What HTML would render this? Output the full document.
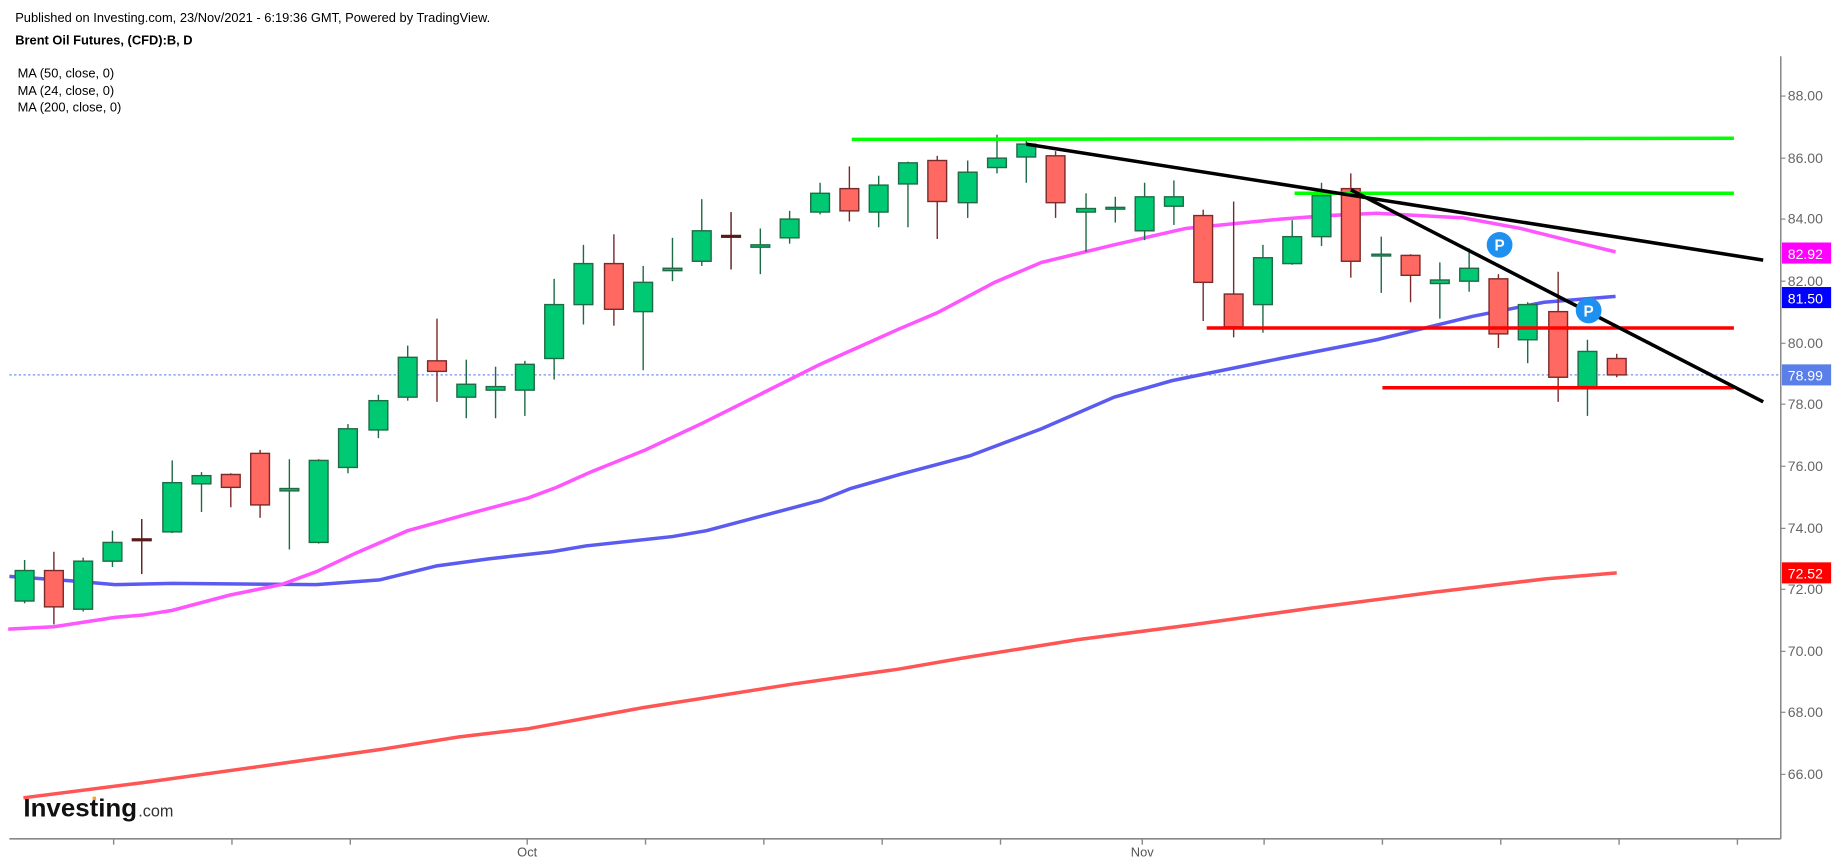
<!DOCTYPE html>
<html><head><meta charset="utf-8"><style>
html,body{margin:0;padding:0;background:#fff;overflow:hidden}
svg{display:block}
text{font-family:"Liberation Sans",sans-serif}
</style></head><body>
<svg width="1837" height="866" viewBox="0 0 1568 739.2" preserveAspectRatio="none" xmlns="http://www.w3.org/2000/svg">
<rect width="1568" height="740" fill="#fff"/>
<text x="13" y="19" font-size="11" fill="#000">Published on Investing.com, 23/Nov/2021 - 6:19:36 GMT, Powered by TradingView.</text>
<text x="13" y="38" font-size="11" font-weight="bold" fill="#000">Brent Oil Futures, (CFD):B, D</text>
<text x="15" y="66" font-size="11" fill="#000">MA (50, close, 0)</text>
<text x="15" y="81" font-size="11" fill="#000">MA (24, close, 0)</text>
<text x="15" y="95" font-size="11" fill="#000">MA (200, close, 0)</text>
<!-- axes -->
<line x1="1520" y1="48" x2="1520" y2="716" stroke="#888" stroke-width="1.3"/>
<line x1="8" y1="716" x2="1520" y2="716" stroke="#888" stroke-width="1.3"/>
<g stroke="#888" stroke-width="1.2">
<line x1="97" y1="716" x2="97" y2="721"/><line x1="198" y1="716" x2="198" y2="721"/><line x1="299" y1="716" x2="299" y2="721"/><line x1="450" y1="716" x2="450" y2="721"/><line x1="551" y1="716" x2="551" y2="721"/><line x1="652" y1="716" x2="652" y2="721"/><line x1="753" y1="716" x2="753" y2="721"/><line x1="854" y1="716" x2="854" y2="721"/><line x1="975" y1="716" x2="975" y2="721"/><line x1="1079" y1="716" x2="1079" y2="721"/><line x1="1180" y1="716" x2="1180" y2="721"/><line x1="1281" y1="716" x2="1281" y2="721"/><line x1="1382" y1="716" x2="1382" y2="721"/><line x1="1483" y1="716" x2="1483" y2="721"/>
</g>
<text x="450" y="731" font-size="11" fill="#555" text-anchor="middle">Oct</text>
<text x="975" y="731" font-size="11" fill="#555" text-anchor="middle">Nov</text>
<g font-size="12" fill="#666">
<text x="1526" y="86">88.00</text><text x="1526" y="139">86.00</text><text x="1526" y="191">84.00</text><text x="1526" y="244">82.00</text><text x="1526" y="297">80.00</text><text x="1526" y="349">78.00</text><text x="1526" y="402">76.00</text><text x="1526" y="455">74.00</text><text x="1526" y="507">72.00</text><text x="1526" y="560">70.00</text><text x="1526" y="612">68.00</text><text x="1526" y="665">66.00</text>
</g>
<g stroke="#888" stroke-width="1"><line x1="1520" y1="82" x2="1524" y2="82"/><line x1="1520" y1="135" x2="1524" y2="135"/><line x1="1520" y1="187" x2="1524" y2="187"/><line x1="1520" y1="240" x2="1524" y2="240"/><line x1="1520" y1="293" x2="1524" y2="293"/><line x1="1520" y1="345" x2="1524" y2="345"/><line x1="1520" y1="398" x2="1524" y2="398"/><line x1="1520" y1="451" x2="1524" y2="451"/><line x1="1520" y1="503" x2="1524" y2="503"/><line x1="1520" y1="556" x2="1524" y2="556"/><line x1="1520" y1="608" x2="1524" y2="608"/><line x1="1520" y1="661" x2="1524" y2="661"/></g>
<!-- current price dotted -->
<line x1="8" y1="320" x2="1520" y2="320" stroke="#7090ee" stroke-width="1" stroke-dasharray="2,2"/>
<!-- MAs -->
<polyline fill="none" stroke="#ff5555" stroke-width="3" points="20,681 122,668 245,651 323,640 392,629 451,622 549,604 676,584 768,571 820,562 920,546 1020,533 1120,519 1220,506 1320,494 1380,489"/>
<polyline fill="none" stroke="#5b5bf0" stroke-width="3" points="8,492 64,496 98,499 147,498 270,499 324,495 373,483 417,477 471,471 500,466 574,458 603,453 652,440 701,427 726,417 768,405 828,389 889,366 951,339 1000,325 1093,306 1175,290 1257,270 1318,258 1379,253"/>
<polyline fill="none" stroke="#ff55ff" stroke-width="3" points="7,537 46,535 98,527 122,525 147,521 196,508 240,499 270,488 304,472 348,453 402,438 451,425 475,416 504,403 551,384 600,361 650,336 700,311 767,281 800,267 849,241 889,224 951,209 1012,195 1093,187 1134,184 1175,182 1249,186 1298,195 1338,205 1379,215"/>
<!-- candles -->
<g id="c" stroke-width="1.2"></g>
<!-- drawings -->
<g stroke-width="3">
<line x1="727" y1="119" x2="1480" y2="118" stroke="#00ff00"/>
<line x1="1105" y1="165" x2="1480" y2="165" stroke="#00ff00"/>
<line x1="1030" y1="280" x2="1480" y2="280" stroke="#ff0000"/>
<line x1="1180" y1="331" x2="1480" y2="331" stroke="#ff0000"/>
<line x1="876" y1="123" x2="1505" y2="222" stroke="#000"/>
<line x1="1153" y1="162" x2="1505" y2="343" stroke="#000"/>
</g>
<circle cx="1280" cy="209" r="11" fill="#1e90f0"/><text x="1280" y="214" font-size="13" font-weight="bold" fill="#fff" text-anchor="middle">P</text>
<circle cx="1356" cy="265" r="11" fill="#1e90f0"/><text x="1356" y="270" font-size="13" font-weight="bold" fill="#fff" text-anchor="middle">P</text>
<!-- price tags -->
<rect x="1521" y="207" width="42" height="18" fill="#ff00ff"/><text x="1526" y="221" font-size="12" fill="#fff">82.92</text>
<rect x="1521" y="245" width="42" height="18" fill="#0000ff"/><text x="1526" y="259" font-size="12" fill="#fff">81.50</text>
<rect x="1521" y="311" width="42" height="18" fill="#5a7fe8"/><text x="1526" y="325" font-size="12" fill="#fff">78.99</text>
<rect x="1521" y="480" width="42" height="18" fill="#ff0000"/><text x="1526" y="494" font-size="12" fill="#fff">72.52</text>
<!-- logo -->
<text x="20" y="697" font-size="21" font-weight="bold" fill="#111" textLength="97" lengthAdjust="spacingAndGlyphs">Investing</text>
<text x="118" y="697" font-size="14" fill="#333" textLength="30" lengthAdjust="spacingAndGlyphs">.com</text>
<rect x="79" y="680" width="3" height="3" fill="#f5a623"/>
</svg>
<script>
var d=[[21,'g',478,487,513,515],[46,'r',471,487,518,533],[71,'g',476,479,520,522],[96,'g',453,463,479,484],[121,'d',443,460,461,490],[147,'g',393,412,454,455],[172,'g',403,406,413,437],[197,'r',404,405,416,433],[222,'r',384,387,431,442],[247,'g',392,417,419,469],[272,'g',392,393,463,464],[297,'g',362,366,399,404],[323,'g',337,342,367,374],[348,'g',295,305,339,342],[373,'r',272,308,317,343],[398,'g',307,328,339,357],[423,'g',313,330,333,357],[448,'g',308,311,333,355],[473,'g',238,260,306,324],[498,'g',209,225,260,277],[524,'r',200,225,264,278],[549,'g',227,241,266,316],[574,'g',203,229,231,240],[599,'g',170,197,223,227],[624,'d',181,201,202,230],[649,'g',195,209,211,234],[674,'g',180,187,203,208],[700,'g',156,165,181,183],[725,'r',142,161,180,189],[750,'g',150,158,181,194],[775,'g',138,139,157,194],[800,'r',133,137,172,204],[826,'g',137,147,173,186],[851,'g',115,135,143,148],[876,'g',119,123,134,156],[901,'r',129,133,173,186],[927,'g',165,178,181,215],[952,'g',168,177,178,190],[977,'g',156,168,197,205],[1002,'g',154,168,176,192],[1027,'r',179,184,241,274],[1053,'r',172,251,279,288],[1078,'g',209,220,260,284],[1103,'g',188,202,225,226],[1128,'g',156,167,202,210],[1153,'r',148,161,223,237],[1179,'g',202,217,218,250],[1204,'r',217,218,235,258],[1229,'g',224,239,242,272],[1254,'g',212,229,240,249],[1279,'r',234,238,285,297],[1304,'g',258,260,290,310],[1330,'r',232,266,322,343],[1355,'g',290,300,330,355],[1380,'r',302,306,320,322]];
var g=document.getElementById('c'),s='';
d.forEach(function(c){var x=c[0],t=c[1],fill=t=='g'?'#00c974':t=='r'?'#ff6961':'#5a1a1a',st=t=='g'?'#1f6b45':t=='r'?'#7a2a2a':'#5a1a1a';
var h=Math.max(c[4]-c[3],1.5);
s+='<line x1="'+x+'" y1="'+c[2]+'" x2="'+x+'" y2="'+c[5]+'" stroke="'+st+'"/>';
s+='<rect x="'+(x-8)+'" y="'+c[3]+'" width="16" height="'+h+'" fill="'+fill+'" stroke="'+st+'"/>';});
g.innerHTML=s;
</script>
</body></html>
